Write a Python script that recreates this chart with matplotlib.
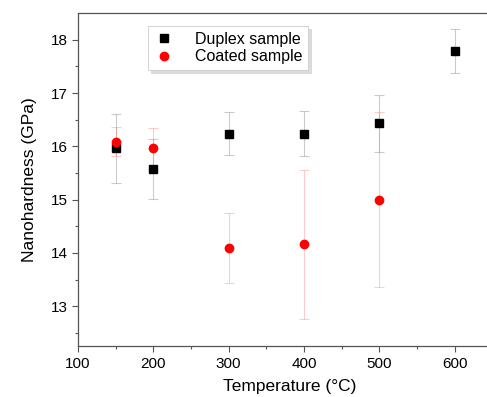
import matplotlib.pyplot as plt

plt.rcParams["font.family"] = ["Liberation Sans", "DejaVu Sans"]

temps_duplex = [150, 200, 300, 400, 500, 600]
hard_duplex = [15.96, 15.57, 16.24, 16.24, 16.43, 17.79]
err_duplex = [0.65, 0.56, 0.41, 0.42, 0.53, 0.42]

temps_coated = [150, 200, 300, 400, 500]
hard_coated = [16.09, 15.96, 14.09, 14.16, 15.0]
err_coated = [0.27, 0.38, 0.65, 1.40, 1.64]

fig = plt.figure(figsize=(4.87, 3.97), dpi=100)
ax = fig.add_axes([0.160, 0.128, 0.87, 0.839])

ax.errorbar(temps_duplex, hard_duplex, yerr=err_duplex, fmt="none",
            ecolor="#999999", elinewidth=0.8, capsize=3.5, capthick=0.8, alpha=0.5)
ax.errorbar(temps_coated, hard_coated, yerr=err_coated, fmt="none",
            ecolor="#ff8080", elinewidth=0.8, capsize=3.5, capthick=0.8, alpha=0.4)
ax.plot(temps_duplex, hard_duplex, "s", color="black", markersize=6,
        linestyle="none", label="Duplex sample")
ax.plot(temps_coated, hard_coated, "o", color="red", markersize=6,
        linestyle="none", label="Coated sample")

ax.set_xlim(100, 662)
ax.set_ylim(12.25, 18.5)
ax.set_xticks([100, 200, 300, 400, 500, 600])
ax.set_xticks([150, 250, 350, 450, 550, 650], minor=True)
ax.set_yticks([13, 14, 15, 16, 17, 18])
ax.set_yticks([12.5, 13.5, 14.5, 15.5, 16.5, 17.5], minor=True)
ax.tick_params(which="major", direction="out", length=4, width=0.8,
               labelsize=11, color="#555555", top=False, right=False)
ax.tick_params(which="minor", direction="out", length=2.5, width=0.8,
               color="#555555", top=False, right=False)
for side in ["left", "bottom", "top", "right"]:
    ax.spines[side].set_color("#555555")
    ax.spines[side].set_linewidth(0.9)

ax.set_xlabel("Temperature (°C)", fontsize=12.5, labelpad=6)
ax.set_ylabel("Nanohardness (GPa)", fontsize=12.5, labelpad=10)

leg = ax.legend(loc="upper left", bbox_to_anchor=(0.165, 0.96), fontsize=11.5,
                frameon=True, fancybox=False,
                shadow={"color": "#bbbbbb", "alpha": 0.5},
                handlelength=1.3, handletextpad=1.3, borderpad=0.35,
                labelspacing=0.15, borderaxespad=0)
leg.get_frame().set_edgecolor("#cccccc")
leg.get_frame().set_linewidth(0.6)

fig.savefig("out.png", dpi=100)
